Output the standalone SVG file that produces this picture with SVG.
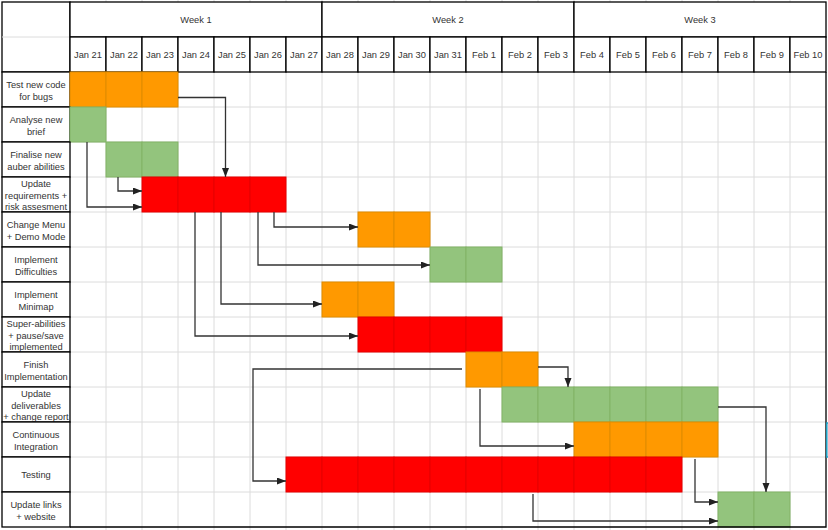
<svg xmlns="http://www.w3.org/2000/svg" width="828" height="530" viewBox="0 0 828 530">
<style>
.grid{stroke:#dcdcdc;stroke-width:1;fill:none}
.hdr{fill:#fff;stroke:#000;stroke-width:1.3}
.lbl{fill:#fff;stroke:#000;stroke-width:1.3}
.t{font-family:"Liberation Sans",Arial,sans-serif;font-size:9.3px;fill:#333;text-anchor:middle}
.o{fill:#ff9900;stroke:#e08c00;stroke-width:1}
.g{fill:#93c47d;stroke:#82b366;stroke-width:1}
.r{fill:#ff0000;stroke:#e60000;stroke-width:1}
.c{fill:none;stroke:#333;stroke-width:1.3;marker-end:url(#ah)}
</style>
<defs>
<marker id="ah" markerUnits="userSpaceOnUse" markerWidth="10" markerHeight="8" refX="9" refY="3.5" orient="auto">
<path d="M0,0 L9,3.5 L0,7 z" fill="#222"/>
</marker>
</defs>
<rect x="0" y="0" width="828" height="530" fill="#fff"/>
<g id="grid">
<path class="grid" d="M106,0V530M142,0V530M178,0V530M214,0V530M250,0V530M286,0V530M322,0V530M358,0V530M394,0V530M430,0V530M466,0V530M502,0V530M538,0V530M574,0V530M610,0V530M646,0V530M682,0V530M718,0V530M754,0V530M790,0V530"/>
<path class="grid" d="M70,107H826M70,142H826M70,177H826M70,212H826M70,247H826M70,282H826M70,317H826M70,352H826M70,387H826M70,422H826M70,457H826M70,492H826"/>
</g>
<g id="header">
<rect class="hdr" x="2" y="2" width="68" height="70"/>
<path d="M2,37H70" stroke="#dcdcdc" stroke-width="1"/>
<rect class="hdr" x="70" y="2" width="252" height="35"/>
<rect class="hdr" x="322" y="2" width="252" height="35"/>
<rect class="hdr" x="574" y="2" width="252" height="35"/>
<text class="t" x="196" y="23.3">Week 1</text>
<text class="t" x="448" y="23.3">Week 2</text>
<text class="t" x="700" y="23.3">Week 3</text>
<g>
<rect class="hdr" x="70" y="37" width="36" height="35"/><rect class="hdr" x="106" y="37" width="36" height="35"/><rect class="hdr" x="142" y="37" width="36" height="35"/><rect class="hdr" x="178" y="37" width="36" height="35"/><rect class="hdr" x="214" y="37" width="36" height="35"/><rect class="hdr" x="250" y="37" width="36" height="35"/><rect class="hdr" x="286" y="37" width="36" height="35"/>
<rect class="hdr" x="322" y="37" width="36" height="35"/><rect class="hdr" x="358" y="37" width="36" height="35"/><rect class="hdr" x="394" y="37" width="36" height="35"/><rect class="hdr" x="430" y="37" width="36" height="35"/><rect class="hdr" x="466" y="37" width="36" height="35"/><rect class="hdr" x="502" y="37" width="36" height="35"/><rect class="hdr" x="538" y="37" width="36" height="35"/>
<rect class="hdr" x="574" y="37" width="36" height="35"/><rect class="hdr" x="610" y="37" width="36" height="35"/><rect class="hdr" x="646" y="37" width="36" height="35"/><rect class="hdr" x="682" y="37" width="36" height="35"/><rect class="hdr" x="718" y="37" width="36" height="35"/><rect class="hdr" x="754" y="37" width="36" height="35"/><rect class="hdr" x="790" y="37" width="36" height="35"/>
</g>
<text class="t" x="88" y="57.6">Jan 21</text><text class="t" x="124" y="57.6">Jan 22</text><text class="t" x="160" y="57.6">Jan 23</text><text class="t" x="196" y="57.6">Jan 24</text><text class="t" x="232" y="57.6">Jan 25</text><text class="t" x="268" y="57.6">Jan 26</text><text class="t" x="304" y="57.6">Jan 27</text>
<text class="t" x="340" y="57.6">Jan 28</text><text class="t" x="376" y="57.6">Jan 29</text><text class="t" x="412" y="57.6">Jan 30</text><text class="t" x="448" y="57.6">Jan 31</text><text class="t" x="484" y="57.6">Feb 1</text><text class="t" x="520" y="57.6">Feb 2</text><text class="t" x="556" y="57.6">Feb 3</text>
<text class="t" x="592" y="57.6">Feb 4</text><text class="t" x="628" y="57.6">Feb 5</text><text class="t" x="664" y="57.6">Feb 6</text><text class="t" x="700" y="57.6">Feb 7</text><text class="t" x="736" y="57.6">Feb 8</text><text class="t" x="772" y="57.6">Feb 9</text><text class="t" x="808" y="57.6">Feb 10</text>
</g>
<g id="task1">
<rect class="lbl" x="2" y="72" width="68" height="35"/>
<text class="t" x="36" y="88.2">Test new code<tspan x="36" dy="11.3">for bugs</tspan></text>
<rect class="o" x="70" y="72" width="36" height="35"/><rect class="o" x="106" y="72" width="36" height="35"/><rect class="o" x="142" y="72" width="36" height="35"/>
</g>
<g id="task2">
<rect class="lbl" x="2" y="107" width="68" height="35"/>
<text class="t" x="36" y="123.2">Analyse new<tspan x="36" dy="11.3">brief</tspan></text>
<rect class="g" x="70" y="107" width="36" height="35"/>
</g>
<g id="task3">
<rect class="lbl" x="2" y="142" width="68" height="35"/>
<text class="t" x="36" y="158.2">Finalise new<tspan x="36" dy="11.3">auber abilities</tspan></text>
<rect class="g" x="106" y="142" width="36" height="35"/><rect class="g" x="142" y="142" width="36" height="35"/>
</g>
<g id="task4">
<rect class="lbl" x="2" y="177" width="68" height="35"/>
<text class="t" x="36" y="187.3">Update<tspan x="36" dy="11.3">requirements +</tspan><tspan x="36" dy="11.5">risk assesment</tspan></text>
<rect class="r" x="142" y="177" width="36" height="35"/><rect class="r" x="178" y="177" width="36" height="35"/><rect class="r" x="214" y="177" width="36" height="35"/><rect class="r" x="250" y="177" width="36" height="35"/>
</g>
<g id="task5">
<rect class="lbl" x="2" y="212" width="68" height="35"/>
<text class="t" x="36" y="228.2">Change Menu<tspan x="36" dy="11.3">+ Demo Mode</tspan></text>
<rect class="o" x="358" y="212" width="36" height="35"/><rect class="o" x="394" y="212" width="36" height="35"/>
</g>
<g id="task6">
<rect class="lbl" x="2" y="247" width="68" height="35"/>
<text class="t" x="36" y="263.2">Implement<tspan x="36" dy="11.3">Difficulties</tspan></text>
<rect class="g" x="430" y="247" width="36" height="35"/><rect class="g" x="466" y="247" width="36" height="35"/>
</g>
<g id="task7">
<rect class="lbl" x="2" y="282" width="68" height="35"/>
<text class="t" x="36" y="298.2">Implement<tspan x="36" dy="11.3">Minimap</tspan></text>
<rect class="o" x="322" y="282" width="36" height="35"/><rect class="o" x="358" y="282" width="36" height="35"/>
</g>
<g id="task8">
<rect class="lbl" x="2" y="317" width="68" height="35"/>
<text class="t" x="36" y="327.3">Super-abilities<tspan x="36" dy="11.3">+ pause/save</tspan><tspan x="36" dy="11.5">implemented</tspan></text>
<rect class="r" x="358" y="317" width="36" height="35"/><rect class="r" x="394" y="317" width="36" height="35"/><rect class="r" x="430" y="317" width="36" height="35"/><rect class="r" x="466" y="317" width="36" height="35"/>
</g>
<g id="task9">
<rect class="lbl" x="2" y="352" width="68" height="35"/>
<text class="t" x="36" y="368.2">Finish<tspan x="36" dy="11.3">Implementation</tspan></text>
<rect class="o" x="466" y="352" width="36" height="35"/><rect class="o" x="502" y="352" width="36" height="35"/>
</g>
<g id="task10">
<rect class="lbl" x="2" y="387" width="68" height="35"/>
<text class="t" x="36" y="397.3">Update<tspan x="36" dy="11.3">deliverables</tspan><tspan x="36" dy="11.5">+ change report</tspan></text>
<rect class="g" x="502" y="387" width="36" height="35"/><rect class="g" x="538" y="387" width="36" height="35"/><rect class="g" x="574" y="387" width="36" height="35"/><rect class="g" x="610" y="387" width="36" height="35"/><rect class="g" x="646" y="387" width="36" height="35"/><rect class="g" x="682" y="387" width="36" height="35"/>
</g>
<g id="task11">
<rect class="lbl" x="2" y="422" width="68" height="35"/>
<text class="t" x="36" y="438.2">Continuous<tspan x="36" dy="11.3">Integration</tspan></text>
<rect class="o" x="574" y="422" width="36" height="35"/><rect class="o" x="610" y="422" width="36" height="35"/><rect class="o" x="646" y="422" width="36" height="35"/><rect class="o" x="682" y="422" width="36" height="35"/>
</g>
<g id="task12">
<rect class="lbl" x="2" y="457" width="68" height="35"/>
<text class="t" x="36" y="478.3">Testing</text>
<rect class="r" x="286" y="457" width="36" height="35"/><rect class="r" x="322" y="457" width="36" height="35"/><rect class="r" x="358" y="457" width="36" height="35"/><rect class="r" x="394" y="457" width="36" height="35"/><rect class="r" x="430" y="457" width="36" height="35"/><rect class="r" x="466" y="457" width="36" height="35"/><rect class="r" x="502" y="457" width="36" height="35"/><rect class="r" x="538" y="457" width="36" height="35"/><rect class="r" x="574" y="457" width="36" height="35"/><rect class="r" x="610" y="457" width="36" height="35"/><rect class="r" x="646" y="457" width="36" height="35"/>
</g>
<g id="task13">
<rect class="lbl" x="2" y="492" width="68" height="35"/>
<text class="t" x="36" y="508.2">Update links<tspan x="36" dy="11.3">+ website</tspan></text>
<rect class="g" x="718" y="492" width="36" height="35"/><rect class="g" x="754" y="492" width="36" height="35"/>
</g>
<g id="frame">
<path d="M826,72V527H70" fill="none" stroke="#000" stroke-width="1.3"/>
<path d="M828,423H826.8V457H828" fill="none" stroke="#1ba1c6" stroke-width="1.5"/>
</g>
<g id="connectors">
<path class="c" d="M178,97.5H225.5V177"/>
<path class="c" d="M87,142V207H142"/>
<path class="c" d="M118,177V191H142"/>
<path class="c" d="M195,212V336H358"/>
<path class="c" d="M221,212V304H322"/>
<path class="c" d="M258,212V265H430"/>
<path class="c" d="M274,212V227H358"/>
<path class="c" d="M462,369H253V481H286"/>
<path class="c" d="M538,367H568V387"/>
<path class="c" d="M480,389V446H574"/>
<path class="c" d="M718,407H766V492"/>
<path class="c" d="M695,459V502H718"/>
<path class="c" d="M533,494V521H718"/>
</g>
</svg>
